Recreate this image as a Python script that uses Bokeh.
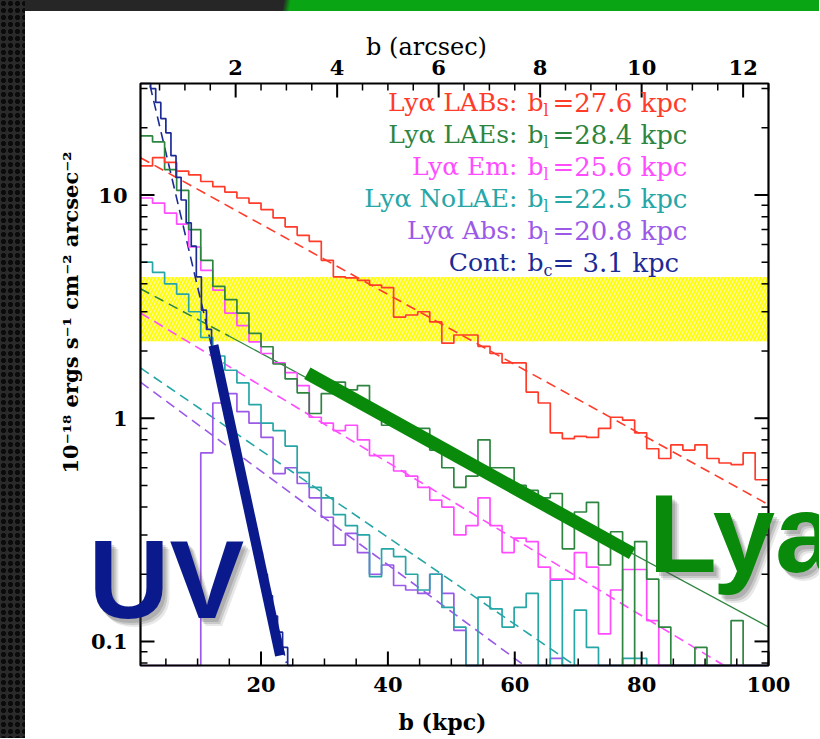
import math
from bokeh.plotting import figure
from bokeh.models import Range1d, Div
from bokeh.layouts import row, column
from bokeh.embed import file_html
from bokeh.resources import INLINE
from bokeh.core.properties import value

# ---------------- data ----------------
bin_edges = [1.0, 2.9, 4.8, 6.7, 8.6, 10.5, 12.4, 14.3, 16.2, 18.1, 20.0, 21.9, 23.8, 25.7,
             27.6, 29.5, 31.4, 33.3, 35.2, 37.1, 39.0, 40.9, 42.8, 44.7, 46.6, 48.5, 50.4,
             52.3, 54.2, 56.1, 58.0, 59.9, 61.8, 63.7, 65.6, 67.5, 69.4, 71.3, 73.2, 75.1,
             77.0, 78.9, 80.8, 82.7, 84.6, 86.5, 88.4, 90.3, 92.2, 94.1, 96.0, 97.9, 100.0]

labs = [13.5, 14.7, 14.0, 12.8, 12.3, 11.5, 10.9, 10.3, 9.7, 9.2,
        8.6, 7.9, 7.2, 6.6, 6.2, 5.1, 4.3, 4.25, 4.15, 3.95,
        3.85, 2.84, 2.9, 3.0, 2.7, 2.17, 2.36, 2.36, 2.1, 1.95,
        1.77, 1.77, 1.31, 1.17, 0.86, 0.81, 0.83, 0.82, 0.90, 1.01,
        0.98, 0.86, 0.73, 0.66, 0.76, 0.72, 0.76, 0.66, 0.63, 0.62,
        0.70, 0.53]
laes = [18.4, 17.3, 13.0, 10.5, 7.0, 5.1, 3.9, 3.4, 2.96, 2.4,
        2.09, 1.75, 1.5, 1.3, 1.05, 1.29, 1.45, 1.34, 1.4, 1.1,
        0.93, 0.93, 0.90, 0.90, 0.72, 0.6, 0.49, 0.55, 0.80, 0.60,
        0.60, 0.50, 0.475, 0.44, 0.46, 0.26, 0.38, 0.42, 0.22, 0.31,
        0.0, 0.28, 0.19, 0.116, 0.0, 0.0, 0.094, 0.0, 0.0, 0.124,
        0.0, 0.0]
em = [9.7, 9.2, 8.3, 7.4, 5.85, 4.6, 3.75, 2.96, 2.6, 2.2,
      1.95, 1.77, 1.6, 1.4, 1.01, 0.95, 0.88, 0.93, 0.80, 0.68,
      0.68, 0.58, 0.55, 0.49, 0.43, 0.40, 0.30, 0.33, 0.44, 0.33,
      0.25, 0.29, 0.28, 0.215, 0.19, 0.19, 0.25, 0.215, 0.108, 0.17,
      0.21, 0.21, 0.124, 0.0, 0.0, 0.0, 0.0, 0.0, 0.0, 0.0,
      0.0, 0.0]
nolae = [5.0, 4.5, 4.0, 3.6, 3.0, 2.3, 1.9, 1.64, 1.44, 1.15,
         0.95, 0.88, 0.75, 0.57, 0.49, 0.44, 0.37, 0.33, 0.3, 0.195,
         0.26, 0.24, 0.2, 0.17, 0.2, 0.142, 0.116, 0.0, 0.158, 0.14,
         0.116, 0.142, 0.164, 0.0, 0.188, 0.0, 0.138, 0.094, 0.0, 0.0,
         0.084, 0.084, 0.0, 0.0, 0.0, 0.0, 0.0, 0.0, 0.0, 0.0,
         0.0, 0.0]
absorb = [0.0, 0.0, 0.0, 0.0, 0.0, 0.70, 1.17, 1.29, 1.07, 0.95,
          0.82, 0.565, 0.6, 0.51, 0.44, 0.36, 0.27, 0.305, 0.25, 0.2,
          0.22, 0.178, 0.17, 0.164, 0.2, 0.164, 0.112, 0.0, 0.0, 0.0,
          0.0, 0.0, 0.0, 0.0, 0.084, 0.0, 0.0, 0.0, 0.0, 0.0,
          0.0, 0.0, 0.0, 0.0, 0.0, 0.0, 0.0, 0.0, 0.0, 0.0,
          0.0, 0.0]

cont_edges = [1.0, 1.8, 2.6, 3.4, 4.2, 5.0, 5.8, 6.6, 7.4, 8.2, 9.0, 9.8, 10.6, 11.4, 12.2,
              13.0, 13.8, 14.6, 15.4, 16.2, 17.0, 17.8, 18.6, 19.4, 20.2, 21.0, 21.8, 22.6,
              23.4, 24.2, 25.0]
cont = [60, 40, 30, 26, 22, 19, 15, 12, 9.5, 7.5, 5.9, 4.3, 3.05, 2.5, 2.0,
        1.6, 1.25, 1.0, 0.8, 0.63, 0.5, 0.4, 0.32, 0.25, 0.2, 0.16, 0.13, 0.11, 0.094, 0.0]

# exponential fits: end points (where they leave the box)
labs_fit_x, labs_fit_y = [1, 100], [14.7, 0.41]
laes_fit_x, laes_fit_y = [1, 15, 100], [3.8, 2.33, 0.116]
em_fit_x, em_fit_y = [1, 93], [2.96, 0.078]
nolae_fit_x, nolae_fit_y = [1, 69.5], [1.68, 0.078]
abs_fit_x, abs_fit_y = [1, 61.5], [1.45, 0.078]
cont_fit_x, cont_fit_y = [2.5, 24], [31, 0.08]

# hand-drawn overlay lines
uv_x, uv_y = [12.5, 23.0], [2.12, 0.0865]
lya_x, lya_y = [27.3, 78.5], [1.59, 0.248]

band_lo, band_hi = 2.21, 4.29

x_major = [20, 40, 60, 80, 100]
x_minor = [5, 10, 15, 25, 30, 35, 45, 50, 55, 65, 70, 75, 85, 90, 95]
y_major = [0.1, 1, 10]
y_minor = [0.08, 0.09, 0.2, 0.3, 0.4, 0.5, 0.6, 0.7, 0.8, 0.9,
           2, 3, 4, 5, 6, 7, 8, 9, 20, 30]
as_major = [2, 4, 6, 8, 10, 12]
as_minor = [0.5, 1, 1.5, 2.5, 3, 3.5, 4.5, 5, 5.5, 6.5, 7, 7.5, 8.5, 9, 9.5,
            10.5, 11, 11.5, 12.5]

legend_prefix = ["Ly\u03b1 LABs:", "Ly\u03b1 LAEs:", "Ly\u03b1 Em:", "Ly\u03b1 NoLAE:",
                 "Ly\u03b1 Abs:", "Cont:"]
legend_sub = ["l", "l", "l", "l", "l", "c"]
legend_rest = ["=27.6 kpc", "=28.4 kpc", "=25.6 kpc", "=22.5 kpc", "=20.8 kpc", "= 3.1 kpc"]

RED, GREEN, MAG, TEAL, PURP, NAVY = "#ff3b2a", "#2e8540", "#ff4cff", "#26a6a6", "#9b59e8", "#1c2a96"
colors = [RED, GREEN, MAG, TEAL, PURP, NAVY]

# ---------------- geometry ----------------
W, H = 794, 727
LEFT_STRIP, TOP_STRIP = 25, 11
FL, FR, FT, FB = 115, 743, 72, 654       # plot box inside the canvas (px)
X0, X1 = 1.0, 100.0
Y0, Y1 = 0.078, 31.6
KPC_PER_ARCSEC = 8.0
SERIF = "DejaVu Serif"
L0, L1 = math.log10(Y0), math.log10(Y1)
SX = (X1 - X0) / (FR - FL)
SLY = (L1 - L0) / (FB - FT)


def px_to_x(px):
    return X0 + (px - FL) * SX


def px_to_y(py):
    return 10 ** (L1 - (py - FT) * SLY)


def clamp(vals):
    return [min(max(v, Y0), Y1) for v in vals]


# the whole canvas is the frame; the plot box is drawn by hand so that texts may sit outside it
p = figure(width=W, height=H,
           x_range=Range1d(px_to_x(0), px_to_x(W)),
           y_range=Range1d(px_to_y(H), px_to_y(0)),
           y_axis_type="log", x_axis_location=None, y_axis_location=None,
           output_backend="svg", toolbar_location=None,
           min_border=0, min_border_left=0, min_border_right=0, min_border_top=0,
           min_border_bottom=0, background_fill_color="white", border_fill_color="white",
           outline_line_color=None)
p.xgrid.visible = False
p.ygrid.visible = False

# yellow hatched band
p.quad(left=[X0], right=[X1], bottom=[band_lo], top=[band_hi], fill_color="#ffff00",
       line_color=None, hatch_pattern="/", hatch_color="#fff7b0", hatch_scale=7,
       hatch_weight=1.2)

# fits
DASH = "10 6"
p.line(labs_fit_x, labs_fit_y, line_color=RED, line_width=1.6, line_dash=DASH)
p.line(laes_fit_x[:2], laes_fit_y[:2], line_color=GREEN, line_width=1.6, line_dash=DASH)
p.line(laes_fit_x[1:], laes_fit_y[1:], line_color=GREEN, line_width=1.3)
p.line(em_fit_x, em_fit_y, line_color=MAG, line_width=1.6, line_dash=DASH)
p.line(nolae_fit_x, nolae_fit_y, line_color=TEAL, line_width=1.6, line_dash=DASH)
p.line(abs_fit_x, abs_fit_y, line_color=PURP, line_width=1.6, line_dash=DASH)
p.line(cont_fit_x, cont_fit_y, line_color=NAVY, line_width=1.6, line_dash=DASH)

# histograms (clamped to the plot box)
for vals, col in [(absorb, PURP), (nolae, TEAL), (em, MAG), (laes, GREEN), (labs, RED)]:
    v = clamp(vals)
    p.step(x=bin_edges, y=v + [v[-1]], mode="after", line_color=col, line_width=1.7)
vc = clamp(cont)
p.step(x=cont_edges, y=vc + [vc[-1]], mode="after", line_color=NAVY, line_width=1.7)

# thick overlay lines
p.line(uv_x, uv_y, line_color="#0a1a8c", line_width=10)
p.line(lya_x, lya_y, line_color="#0a8a0a", line_width=13)

# plot box
p.quad(left=[X0], right=[X1], bottom=[Y0], top=[Y1], fill_color=None,
       line_color="black", line_width=2.2)


# ticks
def hticks(xs, edge_y, inward_px, lw):
    ys_end = px_to_y((FB if edge_y == Y0 else FT) + inward_px)
    p.segment(x0=xs, y0=[edge_y] * len(xs), x1=xs, y1=[ys_end] * len(xs),
              line_color="black", line_width=lw)


def vticks(ys, edge_x, inward_px, lw):
    xs_end = px_to_x((FL if edge_x == X0 else FR) + inward_px)
    p.segment(x0=[edge_x] * len(ys), y0=ys, x1=[xs_end] * len(ys), y1=ys,
              line_color="black", line_width=lw)


hticks(x_major, Y0, -14, 2)
hticks(x_minor, Y0, -7, 1.5)
top_major = [a * KPC_PER_ARCSEC for a in as_major]
top_minor = [a * KPC_PER_ARCSEC for a in as_minor]
hticks(top_major, Y1, 14, 2)
hticks(top_minor, Y1, 7, 1.5)
vticks(y_major, X0, 14, 2)
vticks(y_minor, X0, 7, 1.5)
vticks(y_major, X1, -14, 2)
vticks(y_minor, X1, -7, 1.5)

# tick labels
TICK_FONT = dict(text_font=value(SERIF), text_font_style="bold", text_font_size="21px",
                 text_color="black")
p.text(x=x_major, y=[px_to_y(FB + 11)] * len(x_major), text=[str(v) for v in x_major],
       text_align="center", text_baseline="top", **TICK_FONT)
p.text(x=top_major, y=[px_to_y(FT - 9)] * len(as_major), text=[str(v) for v in as_major],
       text_align="center", text_baseline="bottom", **TICK_FONT)
p.text(x=[px_to_x(FL - 13)] * len(y_major), y=y_major, text=["%g" % v for v in y_major],
       text_align="right", text_baseline="middle", **TICK_FONT)

# legend texts
for i in range(len(legend_prefix)):
    yc = px_to_y(91 + 32 * i)
    ys = px_to_y(91 + 32 * i + 8)
    common = dict(text_font=value(SERIF), text_color=colors[i])
    p.text(x=[px_to_x(492)], y=[yc], text=[legend_prefix[i]], text_align="right",
           text_baseline="middle", text_font_size="25px", **common)
    p.text(x=[px_to_x(502)], y=[yc], text=["b"], text_align="left",
           text_baseline="middle", text_font_size="25px", **common)
    p.text(x=[px_to_x(518)], y=[ys], text=[legend_sub[i]], text_align="left",
           text_baseline="middle", text_font_size="16px", **common)
    p.text(x=[px_to_x(527)], y=[yc], text=[legend_rest[i]], text_align="left",
           text_baseline="middle", text_font_size="26px", **common)

# axis titles
p.text(x=[px_to_x(417)], y=[px_to_y(710)], text=["b (kpc)"], text_align="center",
       text_baseline="middle", text_font=value(SERIF), text_font_style="bold",
       text_font_size="22px", text_color="black")
p.text(x=[px_to_x(401)], y=[px_to_y(35)], text=["b (arcsec)"], text_align="center",
       text_baseline="middle", text_font=value(SERIF), text_font_size="24px",
       text_color="black")
p.text(x=[px_to_x(45)], y=[px_to_y(301)],
       text=["10\u207b\u00b9\u2078 ergs s\u207b\u00b9 cm\u207b\u00b2 arcsec\u207b\u00b2"],
       angle=math.pi / 2, text_align="center", text_baseline="middle",
       text_font=value(SERIF), text_font_style="bold", text_font_size="21px",
       text_color="black")

# big overlay words with soft shadow (anchor = middle of the capitals)
for txt, xpx, ypx, col in [("UV", 63, 568, "#0a1a8c"), ("Lya", 623, 522, "#0a8a0a")]:
    for dx, dy, a in [(7, 8, 0.12), (5, 6, 0.18), (3, 4, 0.2)]:
        p.text(x=[px_to_x(xpx + dx)], y=[px_to_y(ypx + dy)], text=[txt], text_align="left",
               text_baseline="middle", text_font=value("Liberation Sans"),
               text_font_style="bold", text_font_size="112px", text_color="#444444",
               text_alpha=a)
    p.text(x=[px_to_x(xpx)], y=[px_to_y(ypx)], text=[txt], text_align="left",
           text_baseline="middle", text_font=value("Liberation Sans"),
           text_font_style="bold", text_font_size="112px", text_color=col)

left_div = Div(text="", width=LEFT_STRIP, height=TOP_STRIP + H, margin=0,
               styles={"background-color": "#2a2a2a",
                       "background-image": "radial-gradient(circle, #0b0b0b 2.2px, transparent 2.9px)",
                       "background-size": "7px 7px"})
top_div = Div(text="", width=W, height=TOP_STRIP, margin=0,
              styles={"background": "linear-gradient(100deg, #262626 0px, #262626 255px, #0aa514 262px, #0aa514 100%)"})

layout = row(left_div, column(top_div, p))
open("out.html", "w").write(file_html(layout, INLINE))
